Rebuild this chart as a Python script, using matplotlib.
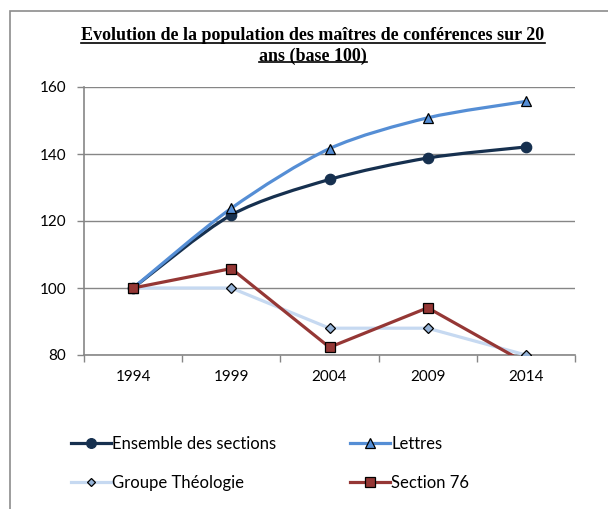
import matplotlib
matplotlib.use("Agg")
import matplotlib.pyplot as plt
import numpy as np
from matplotlib.path import Path
from matplotlib.patches import PathPatch, Rectangle
from matplotlib.lines import Line2D

# data
years = ["1994", "1999", "2004", "2009", "2014"]
ensemble = [100, 121.8, 132.4, 138.8, 142.1]
lettres = [100, 123.8, 141.6, 150.8, 155.7]
theologie = [100, 100, 88, 88, 80]
section76 = [100, 105.8, 82.3, 94.1, 77.6]

title_1 = "Evolution de la population des maîtres de conférences sur 20"
title_2 = "ans (base 100)"

plt.rcParams['font.family'] = ['Lato', 'DejaVu Sans']

W, H = 608, 509
fig = plt.figure(figsize=(W / 100, H / 100), dpi=100)
ax = fig.add_axes([84 / W, 1 - 355 / H, (575 - 84) / W, (355 - 87) / H])


def smooth_path(xs, ys, k=7.0):
    # excel-like smoothed line, bezier through the data points
    pts = np.column_stack([xs, ys]).astype(float)
    n = len(pts)
    verts = [pts[0]]
    codes = [Path.MOVETO]
    for i in range(n - 1):
        p0 = pts[max(i - 1, 0)]
        p1 = pts[i]
        p2 = pts[i + 1]
        p3 = pts[min(i + 2, n - 1)]
        verts += [p1 + (p2 - p0) / k, p2 - (p3 - p1) / k, p2]
        codes += [Path.CURVE4] * 3
    return Path(verts, codes)


x = np.arange(len(years))

series = [
    # values, line colour, marker, marker face, marker size, smooth
    ("Ensemble des sections", ensemble, "#16304f", "o", "#16304f", 7.5, True),
    ("Lettres", lettres, "#558ed5", "^", "#558ed5", 7.5, True),
    ("Groupe Théologie", theologie, "#c6d9f1", "D", "#95b3d7", 5, False),
    ("Section 76", section76, "#953735", "s", "#953735", 7, False),
]

handles = {}
for z, (name, vals, col, mk, mfc, ms, smooth) in enumerate(series):
    if smooth:
        ax.add_patch(PathPatch(smooth_path(x, vals), fill=False, edgecolor=col,
                               lw=2.3, capstyle="round", joinstyle="round", zorder=3 + z))
    else:
        ax.plot(x, vals, color=col, lw=2.3, zorder=3 + z, solid_joinstyle="round")
    mec = col if mk == "o" else "black"
    ax.plot(x, vals, linestyle="none", marker=mk, ms=ms, mfc=mfc, mec=mec, mew=0.9,
            zorder=3 + z)
    handles[name] = Line2D([], [], color=col, lw=2.3, marker=mk, ms=ms - 0.5, mfc=mfc,
                           mec=mec, mew=0.9)

ax.set_xlim(-0.5, len(years) - 0.5)
ax.set_ylim(80, 160)
ax.set_yticks([80, 100, 120, 140, 160])
ax.set_xticks(x)
ax.set_xticklabels(years)
ax.set_xticks(np.arange(len(years) + 1) - 0.5, minor=True)
ax.tick_params(axis="x", which="major", length=0, pad=11, labelsize=11)
ax.tick_params(axis="x", which="minor", length=5, width=1, color="#868686", direction="out")
ax.tick_params(axis="y", length=5, width=1, color="#868686", pad=8, labelsize=11)
ax.yaxis.grid(True, color="#868686", lw=1)
ax.set_axisbelow(True)
for s in ["top", "right"]:
    ax.spines[s].set_visible(False)
for s in ["left", "bottom"]:
    ax.spines[s].set_color("#868686")
    ax.spines[s].set_linewidth(1.2)

# legend, two columns
order = ["Ensemble des sections", "Groupe Théologie", "Lettres", "Section 76"]
fig.legend([handles[k] for k in order], order, loc="upper left",
           bbox_to_anchor=(64 / W, 1 - 429 / H), ncol=2, frameon=False,
           fontsize=12, handlelength=2.4, handletextpad=0.1,
           columnspacing=4.4, labelspacing=1.4, borderaxespad=0)

# outer border
fig.add_artist(Rectangle((10 / W, -0.2), 1.2, 1.2 - 11 / H, transform=fig.transFigure,
                         fill=False, edgecolor="#8c8c8c", lw=1.2))

# underlined bold title
t1 = fig.text(313 / W, 1 - 40.5 / H, title_1, ha="center", va="baseline",
              family="Liberation Serif", weight="bold", fontsize=13)
t2 = fig.text(313 / W, 1 - 60.5 / H, title_2, ha="center", va="baseline",
              family="Liberation Serif", weight="bold", fontsize=13)
fig.canvas.draw()
r = fig.canvas.get_renderer()
for t, base in [(t1, 40.5), (t2, 60.5)]:
    bb = t.get_window_extent(r)
    yy = 1 - (base + 2) / H
    fig.add_artist(Line2D([bb.x0 / W, bb.x1 / W], [yy, yy], transform=fig.transFigure,
                          color="black", lw=1.2))

fig.savefig("out.png", dpi=100)
